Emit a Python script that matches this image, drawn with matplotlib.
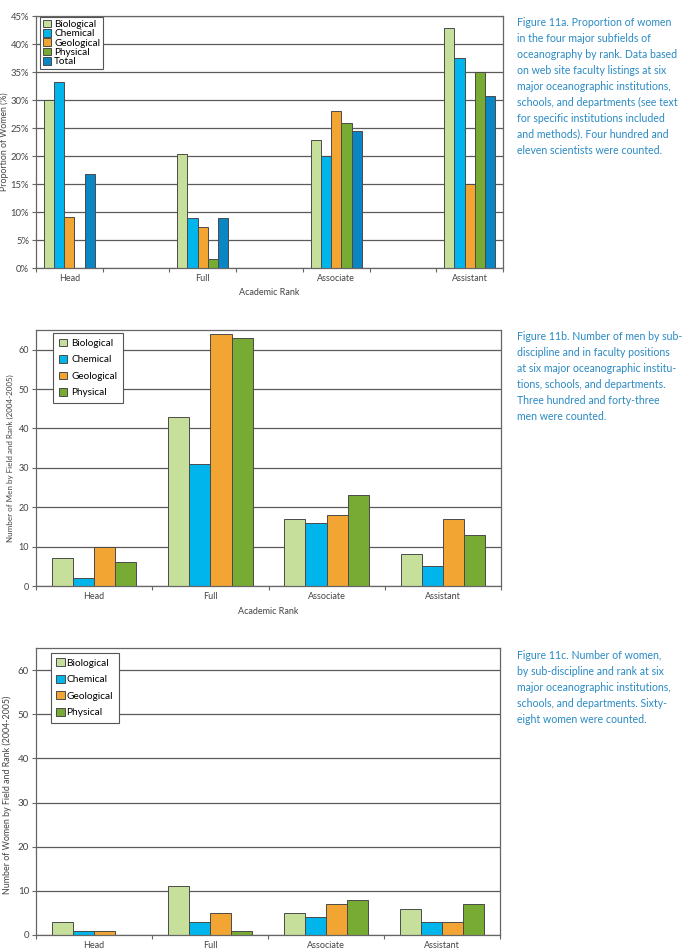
import matplotlib
matplotlib.use("Agg")
import matplotlib.pyplot as plt
import numpy as np

plt.rcParams["font.family"] = ["Lato", "DejaVu Sans"]

# --- data ---
ranks = ["Head", "Full", "Associate", "Assistant"]
fields = ["Biological", "Chemical", "Geological", "Physical"]

# Figure 11a: proportion of women (%)
women_pct_bio = [30.0, 20.4, 22.8, 42.9]
women_pct_chem = [33.3, 8.9, 20.0, 37.5]
women_pct_geo = [9.1, 7.3, 28.0, 15.0]
women_pct_phys = [0.0, 1.6, 25.9, 35.0]
women_pct_total = [16.7, 9.0, 24.5, 30.7]

# Figure 11b: number of men
men_bio = [7, 43, 17, 8]
men_chem = [2, 31, 16, 5]
men_geo = [10, 64, 18, 17]
men_phys = [6, 63, 23, 13]

# Figure 11c: number of women
women_bio = [3, 11, 5, 6]
women_chem = [1, 3, 4, 3]
women_geo = [1, 5, 7, 3]
women_phys = [0, 1, 8, 7]

COLORS = {
    "Biological": "#c6df9b",
    "Chemical": "#00b5ec",
    "Geological": "#f2a532",
    "Physical": "#78ab34",
    "Total": "#0b86c4",
}
CAPTION_COLOR = "#2a8ac4"
GRID_COLOR = "#5a5a5a"
TICK_COLOR = "#444444"

captions = [
    "Figure 11a. Proportion of women\nin the four major subfields of\noceanography by rank. Data based\n"
    "on web site faculty listings at six\nmajor oceanographic institutions,\nschools, and departments (see text\n"
    "for specific institutions included\nand methods). Four hundred and\neleven scientists were counted.",
    "Figure 11b. Number of men by sub-\ndiscipline and in faculty positions\nat six major oceanographic institu-\n"
    "tions, schools, and departments.\nThree hundred and forty-three\nmen were counted.",
    "Figure 11c. Number of women,\nby sub-discipline and rank at six\nmajor oceanographic institutions,\n"
    "schools, and departments. Sixty-\neight women were counted.",
]

W, H = 696, 949
fig = plt.figure(figsize=(W / 100, H / 100), dpi=100)


def px_axes(x0, y0, x1, y1):
    return fig.add_axes([x0 / W, 1 - y1 / H, (x1 - x0) / W, (y1 - y0) / H])


def style_axes(ax):
    for s in ax.spines.values():
        s.set_color("#666666")
        s.set_linewidth(0.9)
    ax.yaxis.grid(True, color=GRID_COLOR, linewidth=0.9)
    ax.set_axisbelow(True)
    ax.tick_params(axis="y", direction="out", length=3, width=0.8, colors="#666666",
                   labelcolor=TICK_COLOR, labelsize=6.5, pad=2)


def draw_bars(ax, centers, series, slot):
    n = len(series)
    bw = slot / (n + 1.5)
    for i, (name, vals) in enumerate(series):
        off = (i - (n - 1) / 2) * bw
        ax.bar(np.array(centers) + off, vals, width=bw, color=COLORS[name],
               edgecolor="#4a4a4a", linewidth=0.7, label=name, zorder=2)


def x_slots(ax, nslots, label_pos):
    ax.set_xlim(-0.5, nslots - 0.5)
    ax.set_xticks(np.arange(nslots + 1) - 0.5, minor=True)
    ax.set_xticks(label_pos)
    ax.set_xticklabels(ranks)
    ax.tick_params(axis="x", which="minor", direction="out", length=3, width=0.8, colors="#666666")
    ax.tick_params(axis="x", which="major", length=0, labelsize=6.5, labelcolor=TICK_COLOR, pad=4)


def box_legend(ax, anchor, **kw):
    leg = ax.legend(loc="upper left", bbox_to_anchor=anchor, borderaxespad=0,
                    handlelength=0.8, handleheight=0.8, fancybox=False, framealpha=1, **kw)
    leg.get_frame().set_edgecolor("#555555")
    leg.get_frame().set_linewidth(0.8)
    return leg


# ---- Figure 11a ----
ax1 = px_axes(36, 16, 503, 268)
style_axes(ax1)
pos_a = [0, 2, 4, 6]
draw_bars(ax1, pos_a, [("Biological", women_pct_bio), ("Chemical", women_pct_chem),
                       ("Geological", women_pct_geo), ("Physical", women_pct_phys),
                       ("Total", women_pct_total)], 1.0)
x_slots(ax1, 7, pos_a)
ax1.set_ylim(0, 45)
ax1.set_yticks(np.arange(0, 46, 5))
ax1.set_yticklabels([f"{v}%" for v in range(0, 46, 5)])
ax1.tick_params(axis="y", labelsize=6.8)
ax1.set_ylabel("Proportion of Women (%)", fontsize=6.3, color=TICK_COLOR)
ax1.yaxis.set_label_coords(-0.058, 0.5)
ax1.set_xlabel("Academic Rank", fontsize=6.5, color=TICK_COLOR, labelpad=4)
box_legend(ax1, (0.008, 0.997), fontsize=7.2, labelspacing=0.0,
           handletextpad=0.35, borderpad=0.3)

# ---- Figure 11b ----
ax2 = px_axes(36, 330, 501, 586)
style_axes(ax2)
pos_b = [0, 1, 2, 3]
draw_bars(ax2, pos_b, [("Biological", men_bio), ("Chemical", men_chem),
                       ("Geological", men_geo), ("Physical", men_phys)], 1.0)
x_slots(ax2, 4, pos_b)
ax2.set_ylim(0, 65)
ax2.set_yticks(np.arange(0, 61, 10))
ax2.set_ylabel("Number of Men by Field and Rank (2004-2005)", fontsize=5.8, color=TICK_COLOR)
ax2.yaxis.set_label_coords(-0.048, 0.5)
ax2.set_xlabel("Academic Rank", fontsize=6.5, color=TICK_COLOR, labelpad=5)
box_legend(ax2, (0.037, 0.988), fontsize=7.2, labelspacing=0.72,
           handletextpad=0.45, borderpad=0.55)

# ---- Figure 11c ----
ax3 = px_axes(36, 648, 500, 935)
style_axes(ax3)
draw_bars(ax3, pos_b, [("Biological", women_bio), ("Chemical", women_chem),
                       ("Geological", women_geo), ("Physical", women_phys)], 1.0)
x_slots(ax3, 4, pos_b)
ax3.set_ylim(0, 65)
ax3.set_yticks(np.arange(0, 61, 10))
ax3.tick_params(axis="y", labelsize=7)
ax3.set_ylabel("Number of Women by Field and Rank (2004-2005)", fontsize=6.4, color=TICK_COLOR)
ax3.yaxis.set_label_coords(-0.052, 0.49)
box_legend(ax3, (0.032, 0.983), fontsize=7.3, labelspacing=0.7,
           handletextpad=0.2, borderpad=0.55)

# ---- captions ----
for (y_top, text) in zip([17, 331, 650], captions):
    fig.text(517 / W, 1 - y_top / H, text, ha="left", va="top", fontsize=7.6,
             color=CAPTION_COLOR, linespacing=1.55)

fig.savefig("out.png", dpi=100)
